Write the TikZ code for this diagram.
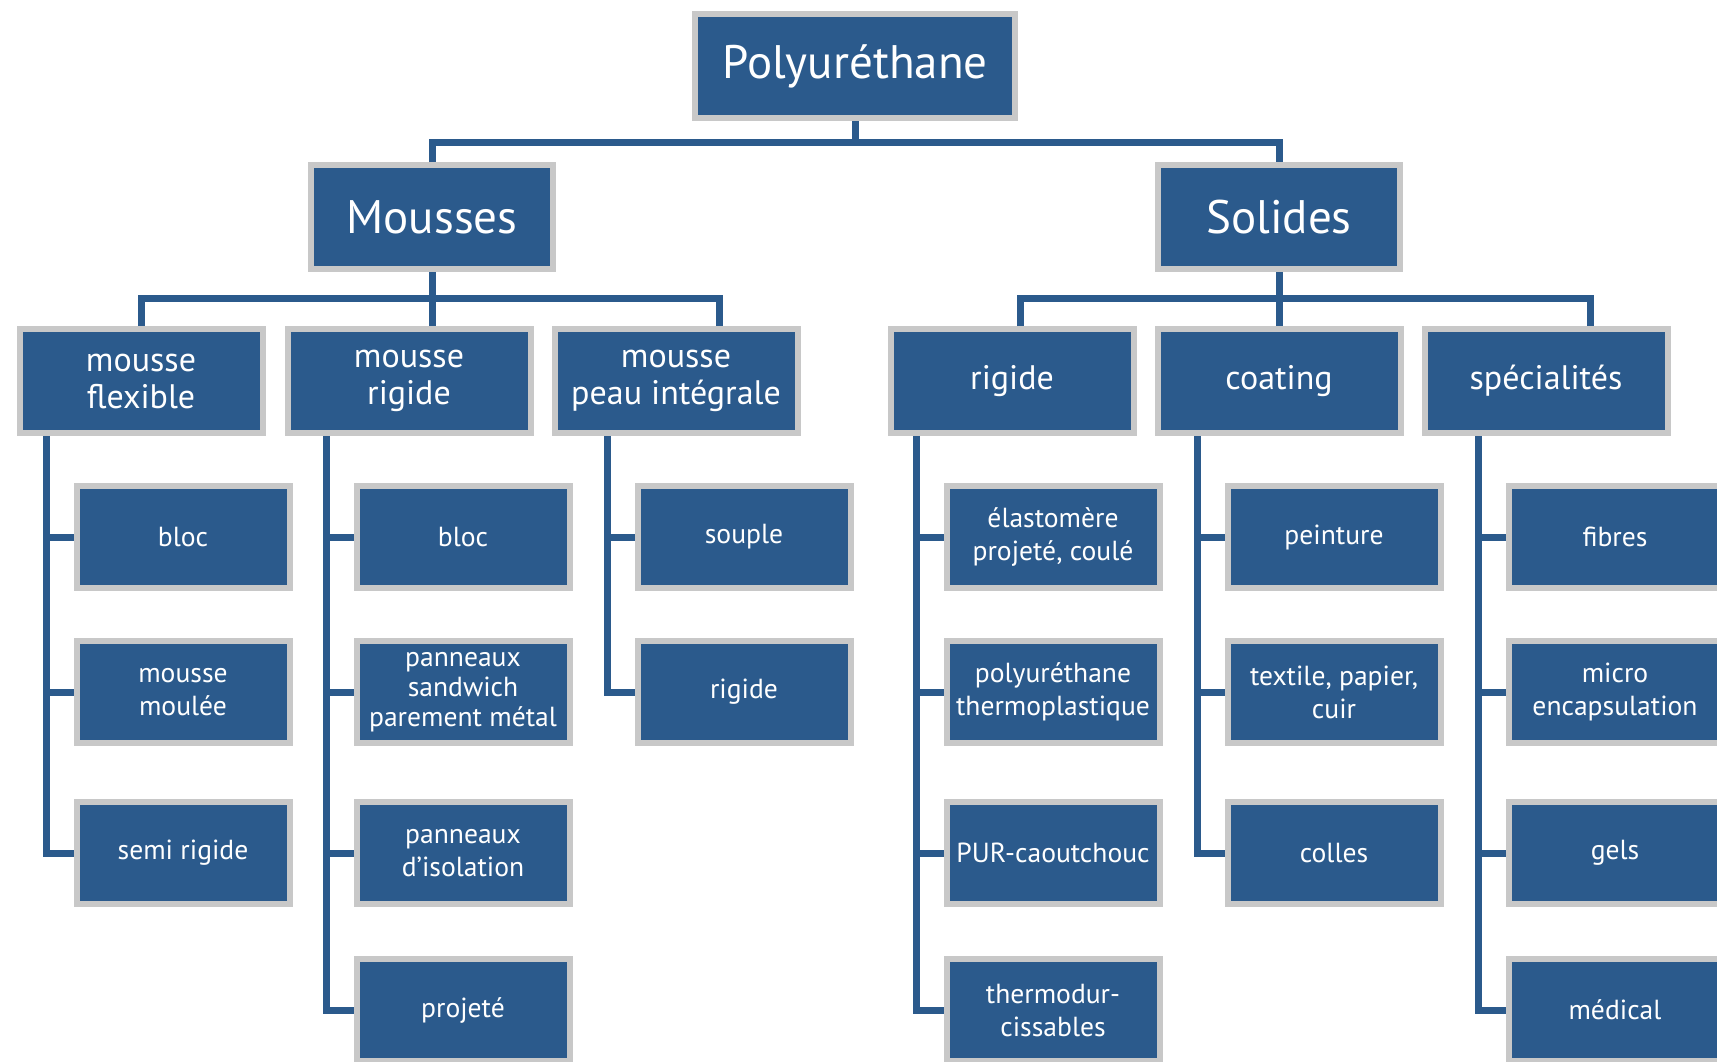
\documentclass[tikz,border=0pt]{standalone}
\usepackage{fontspec}
\setmainfont{PT Sans}
\usetikzlibrary{positioning}

\definecolor{pubox}{HTML}{2B5A8C}
\definecolor{puframe}{HTML}{C8C8C8}

\tikzset{
  box/.style={draw=puframe, line width=3pt, fill=pubox, text=white,
    align=center, inner sep=0pt},
  topbox/.style={box, minimum width=160pt, minimum height=52pt,
    font=\fontsize{23.5}{28}\selectfont},
  mainbox/.style={box, minimum width=121pt, minimum height=52pt,
    font=\fontsize{23.5}{28}\selectfont},
  kindbox/.style={box, minimum width=121.5pt, minimum height=52pt,
    font=\fontsize{17}{18.5}\selectfont},
  leafbox/.style={box, minimum width=106.5pt, minimum height=51pt,
    font=\fontsize{13.8}{16.5}\selectfont},
  link/.style={draw=pubox, line width=3.5pt}
}

\begin{document}
\begin{tikzpicture}[x=0.5pt, y=-0.5pt]
  \useasboundingbox (0,0) rectangle (1717,1061);
  \clip (0,0) rectangle (1717,1061);

  % top levels
  \node[topbox] (poly) at (855,66) {Polyuréthane};
  \node[mainbox] (mousses) at (432,217) {Mousses};
  \node[mainbox] (solides) at (1279,217) {Solides};

  % foams
  \node[kindbox] (flex) at (141,381) {mousse\\flexible};
  \node[kindbox] (mrig) at (409,381) {mousse\\rigide};
  \node[kindbox] (peau) at (676,381) {mousse\\peau intégrale};

  % solids
  \node[kindbox] (srig) at (1012,381) {rigide};
  \node[kindbox] (coat) at (1279,381) {coating};
  \node[kindbox] (spec) at (1546,381) {spécialités};

  % leaves under mousse flexible
  \node[leafbox] (fbloc) at (183,537) {bloc};
  \node[leafbox] (fmoul) at (183,692) {mousse\\moulée};
  \node[leafbox] (fsemi) at (183,853) {semi rigide};

  % leaves under mousse rigide
  \node[leafbox] (rbloc) at (463,537) {bloc};
  \node[leafbox, font=\fontsize{13.8}{15}\selectfont] (rsand) at (463,692)
    {panneaux\\sandwich\\parement métal};
  \node[leafbox] (risol) at (463,853) {panneaux\\d’isolation};
  \node[leafbox] (rproj) at (463,1010) {projeté};

  % leaves under mousse peau intégrale
  \node[leafbox] (psoup) at (744,537) {souple};
  \node[leafbox] (prig) at (744,692) {rigide};

  % leaves under rigide
  \node[leafbox] (selas) at (1053,537) {élastomère\\projeté, coulé};
  \node[leafbox] (stpu) at (1053,692) {polyuréthane\\thermoplastique};
  \node[leafbox] (spur) at (1053,853) {PUR-caoutchouc};
  \node[leafbox] (sthd) at (1053,1010) {thermodur-\\cissables};

  % leaves under coating
  \node[leafbox] (cpein) at (1334,537) {peinture};
  \node[leafbox] (ctext) at (1334,692) {textile, papier,\\cuir};
  \node[leafbox] (ccol) at (1334,853) {colles};

  % leaves under spécialités
  \node[leafbox] (xfib) at (1615,537) {fibres};
  \node[leafbox] (xmic) at (1615,692) {micro\\encapsulation};
  \node[leafbox] (xgel) at (1615,853) {gels};
  \node[leafbox] (xmed) at (1615,1010) {médical};

  % first bar
  \coordinate (bar0) at (855,142);
  \draw[link] (poly.south) -- (bar0);
  \draw[link] (mousses.north) |- (bar0) -| (solides.north);

  % second bars
  \coordinate (bar1) at (432,298);
  \coordinate (bar2) at (1279,298);
  \draw[link] (flex.north) |- (bar1) -| ([xshift=21.5pt]peau.north);
  \draw[link] (mousses.south) -- (mousses.south |- mrig.north);
  \draw[link] ([xshift=4pt]srig.north) |- (bar2) -| ([xshift=22pt]spec.north);
  \draw[link] (solides.south) -- (coat.north);

  % rails down to the leaves
  \draw[link] ([xshift=-13.5pt]fbloc.west |- flex.south) |- (fsemi.west);
  \draw[link] ([xshift=-13.5pt]rbloc.west |- mrig.south) |- (rproj.west);
  \draw[link] ([xshift=-13.5pt]psoup.west |- peau.south) |- (prig.west);
  \draw[link] ([xshift=-13.5pt]selas.west |- srig.south) |- (sthd.west);
  \draw[link] ([xshift=-13.5pt]cpein.west |- coat.south) |- (ccol.west);
  \draw[link] ([xshift=-13.5pt]xfib.west |- spec.south) |- (xmed.west);
  \foreach \leaf in {fbloc,fmoul,rbloc,rsand,risol,psoup,selas,stpu,spur,cpein,ctext,xfib,xmic,xgel}
    \draw[link] (\leaf.west) -- ++(-27,0);
\end{tikzpicture}
\end{document}
